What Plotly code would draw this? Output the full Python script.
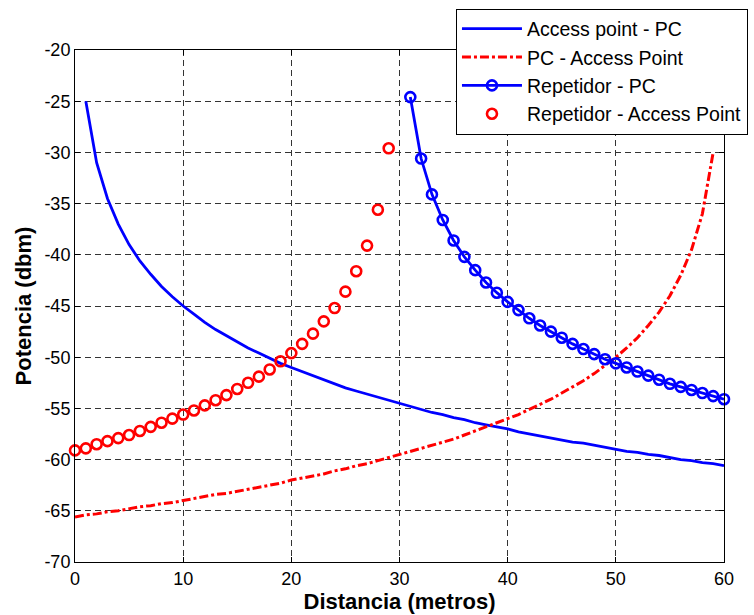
import plotly.graph_objects as go

# ---- data ----
x_ap_pc = list(range(1, 61))
y_ap_pc = [-25.0, -31.0, -34.5, -37.0, -39.0, -40.6, -41.9, -43.1, -44.1, -45.0,
           -45.8, -46.6, -47.3, -47.9, -48.5, -49.1, -49.6, -50.1, -50.6, -51.0,
           -51.4, -51.8, -52.2, -52.6, -53.0, -53.3, -53.6, -53.9, -54.2, -54.5,
           -54.8, -55.1, -55.4, -55.6, -55.9, -56.1, -56.4, -56.6, -56.8, -57.0,
           -57.3, -57.5, -57.7, -57.9, -58.1, -58.3, -58.4, -58.6, -58.8, -59.0,
           -59.2, -59.3, -59.5, -59.6, -59.8, -60.0, -60.1, -60.3, -60.4, -60.6]

x_pc_ap = list(range(0, 60))
y_pc_ap = [-65.6, -65.4, -65.3, -65.1, -65.0, -64.8, -64.6, -64.5, -64.3, -64.2,
           -64.0, -63.8, -63.6, -63.4, -63.3, -63.1, -62.9, -62.7, -62.5, -62.3,
           -62.0, -61.8, -61.6, -61.4, -61.1, -60.9, -60.6, -60.4, -60.1, -59.8,
           -59.5, -59.2, -58.9, -58.6, -58.3, -58.0, -57.6, -57.2, -56.8, -56.4,
           -56.0, -55.6, -55.1, -54.6, -54.1, -53.5, -52.9, -52.3, -51.6, -50.8,
           -50.0, -49.1, -48.1, -46.9, -45.6, -44.0, -42.0, -39.5, -36.0, -30.0]

x_rep_pc = list(range(31, 61))
y_rep_pc = [-24.6, -30.6, -34.1, -36.6, -38.6, -40.2, -41.5, -42.7, -43.7, -44.6,
            -45.4, -46.2, -46.9, -47.5, -48.1, -48.7, -49.2, -49.7, -50.2, -50.6,
            -51.0, -51.4, -51.8, -52.2, -52.6, -52.9, -53.2, -53.5, -53.8, -54.1]

x_rep_ap = list(range(0, 30))
y_rep_ap = [-59.1, -58.9, -58.5, -58.2, -57.9, -57.6, -57.2, -56.8, -56.4, -56.0,
            -55.6, -55.2, -54.7, -54.2, -53.7, -53.1, -52.5, -51.9, -51.2, -50.4,
            -49.6, -48.7, -47.7, -46.5, -45.2, -43.6, -41.6, -39.1, -35.6, -29.6]

names = ["Access point - PC", "PC - Access Point", "Repetidor - PC", "Repetidor - Access Point"]
x_label = "Distancia (metros)"
y_label = "Potencia (dbm)"
x_ticks = [0, 10, 20, 30, 40, 50, 60]
x_ticktext = ["0", "10", "20", "30", "40", "50", "60"]
y_ticks = [-70, -65, -60, -55, -50, -45, -40, -35, -30, -25, -20]
y_ticktext = ["-70", "-65", "-60", "-55", "-50", "-45", "-40", "-35", "-30", "-25", "-20"]

FONT = "Liberation Sans, Arial, Helvetica, sans-serif"
BLUE = "#0000ff"
RED = "#ff0000"

fig = go.Figure()
fig.add_trace(go.Scatter(x=x_ap_pc, y=y_ap_pc, mode="lines", name=names[0],
                         line=dict(color=BLUE, width=2.8)))
fig.add_trace(go.Scatter(x=x_pc_ap, y=y_pc_ap, mode="lines", name=names[1],
                         line=dict(color=RED, width=3, dash="dashdot")))
fig.add_trace(go.Scatter(x=x_rep_pc, y=y_rep_pc, mode="lines+markers", name=names[2],
                         line=dict(color=BLUE, width=2.8), cliponaxis=False,
                         marker=dict(symbol="circle-open", size=10, color=BLUE,
                                     line=dict(width=2.6, color=BLUE))))
fig.add_trace(go.Scatter(x=x_rep_ap, y=y_rep_ap, mode="markers", name=names[3],
                         cliponaxis=False,
                         marker=dict(symbol="circle-open", size=10, color=RED,
                                     line=dict(width=2.6, color=RED))))

axis_common = dict(
    showline=True, linecolor="black", linewidth=1, mirror="ticks",
    ticks="inside", ticklen=5, tickcolor="black", tickwidth=1,
    showgrid=True, gridcolor="#333333", gridwidth=1, griddash="6px,4px",
    zeroline=False, automargin=False,
    tickfont=dict(family=FONT, size=18, color="black"),
)

fig.update_xaxes(range=[0, 60], tickmode="array", tickvals=x_ticks, ticktext=x_ticktext,
                 title=dict(text="<b>" + x_label + "</b>",
                            font=dict(family=FONT, size=22, color="black"), standoff=4),
                 **axis_common)
fig.update_yaxes(range=[-70, -20], tickmode="array", tickvals=y_ticks, ticktext=y_ticktext,
                 title=dict(text="<b>" + y_label + "</b>",
                            font=dict(family=FONT, size=22, color="black"), standoff=6),
                 **axis_common)

fig.update_layout(
    width=754, height=615,
    margin=dict(l=75, r=30, t=50, b=53, autoexpand=False),
    paper_bgcolor="white", plot_bgcolor="white",
    showlegend=True,
    legend=dict(x=0.587, y=1.081, xanchor="left", yanchor="top",
                bgcolor="white", bordercolor="black", borderwidth=1,
                font=dict(family=FONT, size=19.5, color="black"),
                itemwidth=60, tracegroupgap=0),
)

fig.write_html("out.html")
